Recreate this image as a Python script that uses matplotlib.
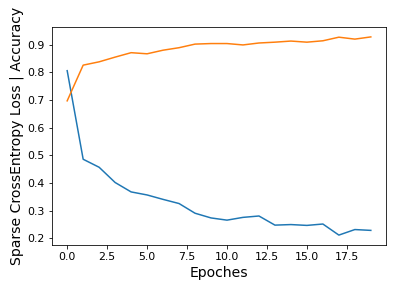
import matplotlib
matplotlib.use('Agg')
import matplotlib.pyplot as plt
import numpy as np

epochs = np.arange(20)
loss = [0.806, 0.486, 0.457, 0.402, 0.368, 0.357, 0.341, 0.326, 0.291, 0.274,
        0.266, 0.276, 0.281, 0.248, 0.250, 0.247, 0.252, 0.212, 0.232, 0.229]
accuracy = [0.697, 0.826, 0.838, 0.855, 0.871, 0.867, 0.880, 0.889, 0.902, 0.904,
            0.904, 0.899, 0.906, 0.909, 0.913, 0.909, 0.914, 0.927, 0.920, 0.928]

fig = plt.figure(figsize=(393 / 72, 290 / 72), dpi=72)
ax = fig.add_axes([52 / 393, 45 / 290, 334 / 393, 218 / 290])

ax.plot(epochs, loss)
ax.plot(epochs, accuracy)

ax.set_xlabel("Epoches", fontsize=14)
ax.set_ylabel("Sparse CrossEntropy Loss | Accuracy", fontsize=14)
ax.tick_params(labelsize=11)

fig.savefig("out.png", dpi=72, facecolor='white')
